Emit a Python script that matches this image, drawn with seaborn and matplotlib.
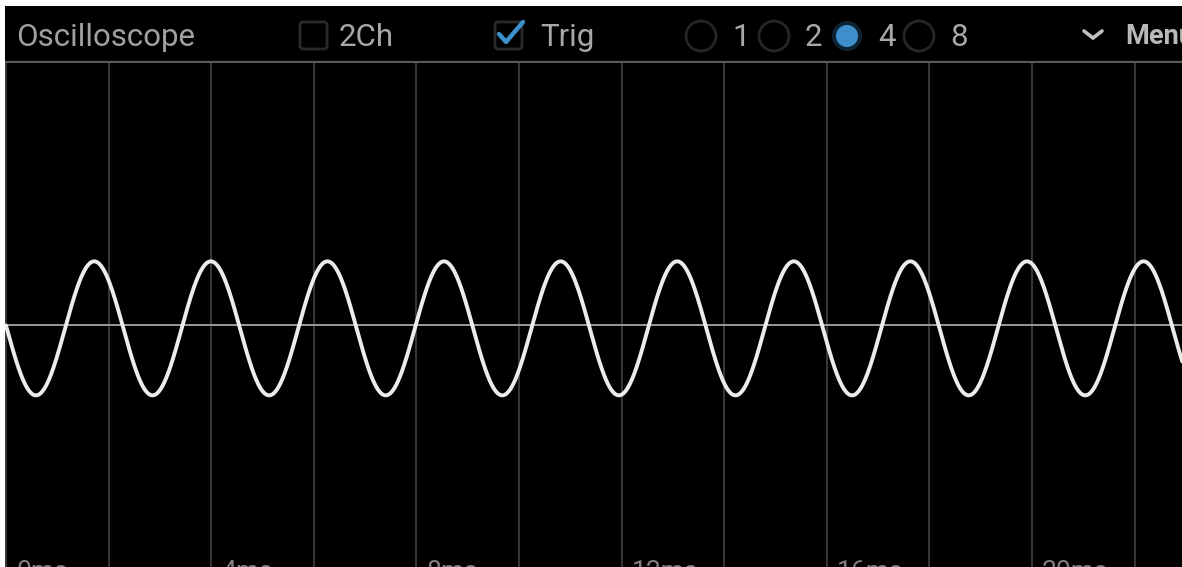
import numpy as np
import pandas as pd
import seaborn as sns
import matplotlib.pyplot as plt
from matplotlib.patches import Circle, FancyBboxPatch

# ---- data ----
signal_freq_hz = 440.0          # one period ~ 2.27 ms
signal_amplitude = 1.0          # volts (div units)
first_peak_ms = 1.72            # time of the first crest
dc_offset = -0.05
time_span_ms = [0.0, 23.0]
grid_ticks_ms = [0, 2, 4, 6, 8, 10, 12, 14, 16, 18, 20, 22]
label_ticks_ms = [0, 4, 8, 12, 16, 20]
tick_labels = ["0ms", "4ms", "8ms", "12ms", "16ms", "20ms"]
header_title = "Oscilloscope"
checkbox_labels = ["2Ch", "Trig"]
checkbox_states = [False, True]
radio_labels = ["1", "2", "4", "8"]
radio_selected = "4"
menu_label = "Menu"

# ---- trace ----
t = np.linspace(time_span_ms[0], time_span_ms[1], 3000)
period_ms = 1000.0 / signal_freq_hz
v = signal_amplitude * np.cos(2 * np.pi * (t - first_peak_ms) / period_ms) + dc_offset
df = pd.DataFrame({"time_ms": t, "volts": v})

sns.set_theme(style="dark")
plt.rcParams["font.family"] = ["Roboto", "DejaVu Sans"]

W, H = 1182, 567
fig = plt.figure(figsize=(W / 100, H / 100), dpi=100, facecolor="white")

# main plot area (pixels: x 5..1182, y 63..567)
ax = fig.add_axes([5 / W, 0, (W - 5) / W, (H - 63) / H])
ax.set_facecolor("black")
px_per_ms = 51.3
x0_px = 6
ax.set_xlim(-(x0_px - 5) / px_per_ms, (W - x0_px) / px_per_ms)
amp_px = 67.0
ax.set_ylim(-(H - 325) / amp_px, (325 - 63) / amp_px)

for g in grid_ticks_ms:
    ax.axvline(g, color="#363636", lw=1.5, zorder=1)
ax.axhline(0, color="#9a9a9a", lw=1.4, zorder=2)

sns.lineplot(data=df, x="time_ms", y="volts", ax=ax, color="#ececec", lw=2.8,
             zorder=3, legend=False)

for tk, lab in zip(label_ticks_ms, tick_labels):
    ax.annotate(lab, xy=(tk, 0), xycoords=("data", "axes fraction"),
                xytext=(10, 7), textcoords="offset pixels",
                ha="left", va="top", color="#808080", fontsize=19,
                annotation_clip=False)

ax.set_xticks([])
ax.set_yticks([])
ax.set_xlabel("")
ax.set_ylabel("")
for s in ax.spines.values():
    s.set_visible(False)

# header bar in pixel coordinates
hx = fig.add_axes([5 / W, (H - 63) / H, (W - 5) / W, 57 / H])
hx.set_facecolor("black")
hx.set_xlim(5, W)
hx.set_ylim(63, 6)
hx.set_xticks([])
hx.set_yticks([])
for s in hx.spines.values():
    s.set_visible(False)
hx.axhline(62.5, color="#5a5a5a", lw=1.6)

fs = 22.5
hx.text(16, 37, header_title, color="#a0a0a0", fontsize=fs, va="center", ha="left")

# checkboxes
cb_x = [300, 495]
txt_x = [339, 540]
for bx, tx, lab, st in zip(cb_x, txt_x, checkbox_labels, checkbox_states):
    hx.add_patch(FancyBboxPatch((bx, 22), 27, 27, boxstyle="round,pad=0,rounding_size=3",
                                fc="none", ec="#2a2a2a", lw=2))
    hx.text(tx, 37, lab, color="#a8a8a8", fontsize=fs, va="center", ha="left")
    if st:
        hx.plot([bx + 4, bx + 11, bx + 28], [34, 42, 22], color="#3c8fc8", lw=3.2,
                solid_capstyle="round", solid_joinstyle="round")

# radio buttons
radio_cx = [701, 774, 847, 919]
for cx, lab in zip(radio_cx, radio_labels):
    if lab == radio_selected:
        hx.add_patch(Circle((cx, 36), 15, fc="#0d2333", ec="none"))
        hx.add_patch(Circle((cx, 36), 11, fc="#3d8fcc", ec="none"))
    else:
        hx.add_patch(Circle((cx, 36), 15, fc="none", ec="#262626", lw=2))
    hx.text(cx + 31, 37, lab, color="#a8a8a8", fontsize=fs, va="center", ha="left")

# menu
hx.plot([1084, 1093, 1102], [31, 38, 31], color="#c0c0c0", lw=2.6,
        solid_capstyle="round", solid_joinstyle="miter")
hx.text(1125, 37, menu_label, color="#b8b8b8", fontsize=19.5, va="center", ha="left",
        fontweight="semibold")

fig.savefig("out.png", dpi=100, facecolor="white")
